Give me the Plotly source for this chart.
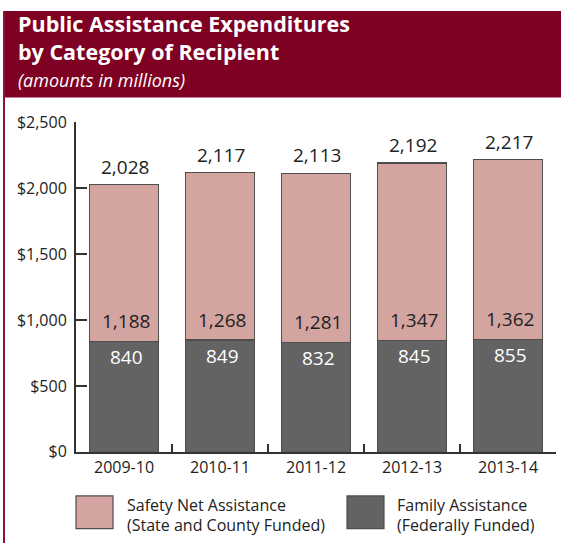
import plotly.graph_objects as go

# Fiscal years and expenditure amounts (millions of dollars)
years = ["2009-10", "2010-11", "2011-12", "2012-13", "2013-14"]
family_assistance = [840, 849, 832, 845, 855]          # federally funded
safety_net_assistance = [1188, 1268, 1281, 1347, 1362]  # state and county funded
totals = [f + s for f, s in zip(family_assistance, safety_net_assistance)]
y_ticks = [0, 500, 1000, 1500, 2000, 2500]
y_tick_labels = [f"${v:,}" for v in y_ticks]

W, H = 561, 554
FONT = "Open Sans"
PINK = "#d4a4a0"
GRAY = "#636363"
EDGE = "#4d4d4d"
MAROON = "#7e0022"
TEXT = "#222222"


def px(x):
    return x / W


def py(y):
    return 1 - y / H


fig = go.Figure()
fig.add_trace(go.Bar(
    x=years, y=family_assistance, name="Family Assistance",
    marker=dict(color=GRAY, line=dict(color=EDGE, width=1.2)),
    width=0.72, hoverinfo="skip",
))
fig.add_trace(go.Bar(
    x=years, y=safety_net_assistance, name="Safety Net Assistance",
    marker=dict(color=PINK, line=dict(color=EDGE, width=1.2)),
    width=0.72, hoverinfo="skip",
))

annotations = []
for yr, fam, saf, tot in zip(years, family_assistance, safety_net_assistance, totals):
    # total above the stack
    annotations.append(dict(x=yr, y=tot, xref="x", yref="y", text=f"{tot:,}",
                            showarrow=False, yshift=18, xshift=1,
                            font=dict(family=FONT, size=19, color=TEXT)))
    # safety net value just above the segment boundary
    annotations.append(dict(x=yr, y=fam, xref="x", yref="y", text=f"{saf:,}",
                            showarrow=False, yshift=20, xshift=2,
                            font=dict(family=FONT, size=19, color=TEXT)))
    # family assistance value just below the boundary
    annotations.append(dict(x=yr, y=fam, xref="x", yref="y", text=f"{fam:,}",
                            showarrow=False, yshift=-16, xshift=2,
                            font=dict(family=FONT, size=19, color="white")))

# Header: two-line bold title and italic subtitle
annotations.append(dict(x=px(16), y=py(59.5), xref="paper", yref="paper",
                        xanchor="left", yanchor="bottom", align="left",
                        text="<b>Public Assistance Expenditures</b><br><b>by Category of Recipient</b>",
                        showarrow=False,
                        font=dict(family=FONT, size=21.5, color="white")))
annotations.append(dict(x=px(16), y=py(86), xref="paper", yref="paper",
                        xanchor="left", yanchor="bottom", align="left",
                        text="<i>(amounts in millions)</i>", showarrow=False,
                        font=dict(family=FONT, size=18, color="white")))

# Legend text
legend_items = [
    (76, 125, PINK, "Safety Net Assistance", "(State and County Funded)"),
    (347, 395, GRAY, "Family Assistance", "(Federally Funded)"),
]
shapes = [
    dict(type="rect", xref="paper", yref="paper", x0=px(5), x1=1.0, y0=py(90), y1=1.0,
         fillcolor=MAROON, line=dict(width=0), layer="below"),
    dict(type="line", xref="paper", yref="paper", x0=px(4), x1=px(4), y0=0, y1=1,
         line=dict(color="#8c1535", width=2)),
]
for sx, tx, color, line1, line2 in legend_items:
    shapes.append(dict(type="rect", xref="paper", yref="paper",
                       x0=px(sx), x1=px(sx + 37), y0=py(539), y1=py(505),
                       fillcolor=color, line=dict(color=EDGE, width=1.2)))
    annotations.append(dict(x=px(tx), y=py(514), xref="paper", yref="paper",
                            xanchor="left", yanchor="middle", text=line1, showarrow=False,
                            font=dict(family=FONT, size=16, color=TEXT)))
    annotations.append(dict(x=px(tx), y=py(535), xref="paper", yref="paper",
                            xanchor="left", yanchor="middle", text=line2, showarrow=False,
                            font=dict(family=FONT, size=16, color=TEXT)))

fig.update_layout(
    width=W, height=H,
    margin=dict(l=0, r=0, t=0, b=0),
    paper_bgcolor="white", plot_bgcolor="white",
    barmode="stack", showlegend=False,
    font=dict(family=FONT, color=TEXT),
    xaxis=dict(domain=[px(76), px(556)], type="category",
               showline=True, linecolor="#333333", linewidth=2,
               ticks="inside", tickson="boundaries", ticklen=8, tickwidth=1.5,
               tickcolor="#333333", showgrid=False,
               tickfont=dict(family=FONT, size=16, color=TEXT)),
    yaxis=dict(domain=[py(459), py(116)], range=[0, 2500],
               tickmode="array", tickvals=y_ticks, ticktext=y_tick_labels,
               showline=True, linecolor="#333333", linewidth=2,
               ticks="inside", ticklen=11, tickwidth=1.5, tickcolor="#333333",
               showgrid=False, zeroline=False, ticklabelstandoff=4,
               tickfont=dict(family=FONT, size=16, color=TEXT)),
    shapes=shapes,
    annotations=annotations,
)

fig.write_html("out.html")
